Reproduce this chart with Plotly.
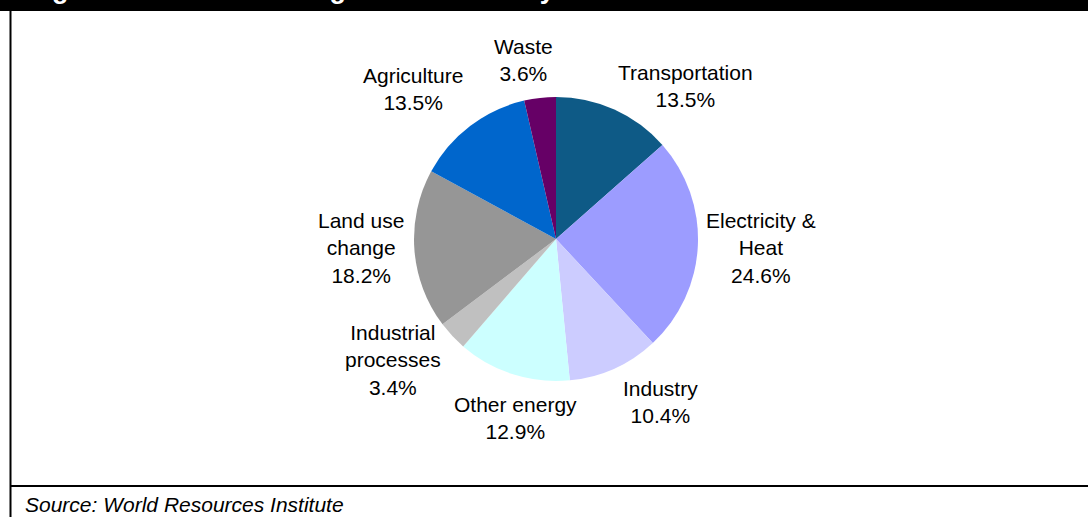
import plotly.graph_objects as go

# Sector shares of global greenhouse gas emissions (clockwise from 12 o'clock)
sectors = ["Transportation", "Electricity & Heat", "Industry", "Other energy",
           "Industrial processes", "Land use change", "Agriculture", "Waste"]
shares = [13.5, 24.6, 10.4, 12.9, 3.4, 18.2, 13.5, 3.6]
label_lines = [["Transportation"], ["Electricity &", "Heat"], ["Industry"],
               ["Other energy"], ["Industrial", "processes"], ["Land use", "change"],
               ["Agriculture"], ["Waste"]]
colors = ["#0E5A86", "#9C9CFF", "#CCCCFF", "#CCFFFF",
          "#C0C0C0", "#969696", "#0066CC", "#660066"]

title_text = "Figure 10: Greenhouse gas emissions by sector"
source_text = "Source: World Resources Institute"

W, H = 1088, 517
FONT = "Arial, Liberation Sans, sans-serif"


def px_x(x):
    return x / W


def px_y(y):
    return 1 - y / H


# pie geometry in pixels
cx, cy, r = 556, 239, 142

fig = go.Figure(go.Pie(
    labels=sectors,
    values=shares,
    sort=False,
    direction="clockwise",
    rotation=0,
    marker=dict(colors=colors, line=dict(width=0)),
    textinfo="none",
    hoverinfo="label+percent",
    showlegend=False,
    domain=dict(x=[px_x(cx - r), px_x(cx + r)], y=[px_y(cy + r), px_y(cy - r)]),
))

# label block centres (pixels)
label_pos = [(685, 86), (761, 248), (660, 402), (515, 418),
             (393, 360), (361, 248), (413, 89), (523, 60)]

annotations = []
for lines, val, (lx, ly) in zip(label_lines, shares, label_pos):
    txt = "<br>".join(lines + [f"{val:.1f}%"])
    annotations.append(dict(
        x=px_x(lx), y=px_y(ly), xref="paper", yref="paper",
        text=txt, showarrow=False, xanchor="center", yanchor="middle",
        align="center", font=dict(family=FONT, size=21, color="#000000"),
    ))

# heading in the black band (only its lower edge falls inside the page)
annotations.append(dict(
    x=px_x(26), y=px_y(6), xref="paper", yref="paper",
    text=f"<b>{title_text}</b>", showarrow=False, xanchor="left", yanchor="bottom",
    font=dict(family=FONT, size=27, color="#FFFFFF"),
))

# source line
annotations.append(dict(
    x=px_x(24), y=px_y(504), xref="paper", yref="paper",
    text=f"<i>{source_text}</i>", showarrow=False, xanchor="left", yanchor="middle",
    borderpad=0,
    font=dict(family=FONT, size=21, color="#000000"),
))

shapes = [
    # black heading band
    dict(type="rect", xref="paper", yref="paper", x0=0, x1=1, y0=px_y(11), y1=1.02,
         fillcolor="#000000", line=dict(width=0), layer="above"),
    # left frame line
    dict(type="line", xref="paper", yref="paper", x0=px_x(10.5), x1=px_x(10.5),
         y0=px_y(11), y1=0, line=dict(color="#000000", width=2)),
    # rule above the source line
    dict(type="line", xref="paper", yref="paper", x0=px_x(10), x1=1,
         y0=px_y(486), y1=px_y(486), line=dict(color="#000000", width=2)),
]

fig.update_layout(
    width=W, height=H,
    margin=dict(l=0, r=0, t=0, b=0),
    paper_bgcolor="#FFFFFF",
    plot_bgcolor="#FFFFFF",
    annotations=annotations,
    shapes=shapes,
)

fig.write_html("out.html")
